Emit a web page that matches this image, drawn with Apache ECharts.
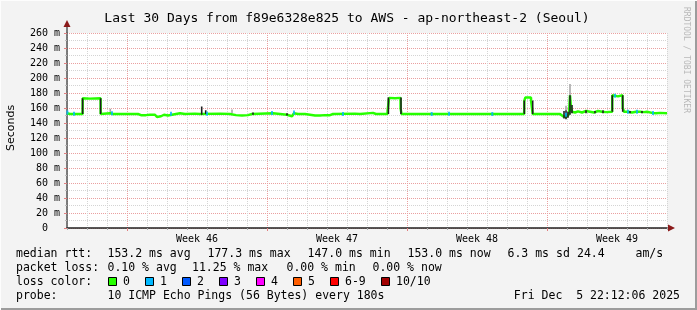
<!DOCTYPE html>
<html>
<head>
<meta charset="utf-8">
<script src="https://cdn.jsdelivr.net/npm/echarts@6/dist/echarts.min.js"></script>
<style>html,body{margin:0;padding:0;background:#f3f3f3;}#c{width:697px;height:310px;}</style>
</head>
<body>
<div id="c"></div>
<script>
// ---- data (time in days since start of the 30-day window, values in ms) ----
const times = [0.00,0.15,0.78,0.785,1.15,1.68,1.685,2.15,2.30,3.55,3.70,3.95,4.15,4.25,4.40,4.50,4.60,4.70,4.85,5.05,5.15,5.65,5.90,6.40,6.65,7.65,8.15,8.25,8.45,8.75,9.05,9.25,10.30,10.65,11.00,11.10,11.25,11.35,11.55,11.90,12.15,12.40,12.65,12.90,13.15,13.30,14.40,14.65,15.30,15.45,16.025,16.03,16.10,16.105,16.40,16.675,16.68,16.725,19.65,22.86,22.865,22.915,23.20,23.205,23.28,23.285,24.65,24.80,24.95,25.05,25.10,25.15,25.20,25.25,25.40,25.55,25.75,25.95,26.15,26.35,26.55,26.75,26.95,27.26,27.265,27.35,27.55,27.775,27.785,27.85,28.05,28.25,28.45,28.65,28.85,29.00,29.05,29.25,29.45,29.65,30.00];
const median = [153,152,152,173,172.5,173,152,153,152,152,150.5,150.5,151,153,151,148,147,149,151,150,152,153,152,152.5,152,152.5,152,153,150.5,150,150.5,152,153,152,151,149,149,153,152,152,151,150,150,150.5,150.5,152,152.5,152,153.5,152,152,156,156,173.5,173,173.5,159.5,152,152,152,169.5,174,174,169.5,169.5,152,152,149,148,150,152,177,160,155,154,155.5,154,156,155,154,156,155,154.5,155,177,176,175.5,177,160,155,155,154,155,155,154.5,155,153,153.5,153,153.5,153];

// packets lost (1 of 10) at these times
const lossTimes = [0.02,0.35,2.25,5.20,7.00,10.25,11.35,13.80,18.235,19.10,21.265,24.95,27.40,28.05,28.50,29.30];
const lossMs    = [154,152.5,153,152.5,152.5,153.5,154,152,152,152.5,152,151,176.5,155,155,153.5];

// smoke (spread of the pings): dark and light parts
const smokeDarkT  = [0.78,1.68,6.735,6.935,9.30,11.00,16.07,16.70,22.865,23.285,24.85,24.95,25.05,25.15,25.25,25.95,26.40,26.80,27.265,27.785,28.15,28.75];
const smokeDarkLo = [152,152,151,152,151,150,152,152,152,152,146,145,147,151,153,153,153,153,155,155,153,153];
const smokeDarkHi = [173,173,162,157,154,153,174,174,170,170,156,157,155,177,164,157,156,157,177,177,156,156];
const smokeGreyT  = [2.165,8.25,24.95,25.15];
const smokeGreyLo = [152,153,157,177];
const smokeGreyHi = [159,158,163,192];

const weekStarts = [3,10,17,24];
const weekMid    = [6.5,13.5,20.5,27.5];
const weekLabels = ['Week 46','Week 47','Week 48','Week 49'];

const lossColors = ['#26ff00','#00b8ff','#0059ff','#7e00ff','#ff00ff','#ff5e00','#ff0000','#a10000'];
const lossNames  = ['0','1','2','3','4','5','6-9','10/10'];

const statsRtt  = ['153.2 ms avg','177.3 ms max','147.0 ms min','153.0 ms now','6.3 ms sd','24.4','am/s'];
const statsLoss = ['0.10 % avg','11.25 % max','0.00 % min','0.00 % now'];
const probeText = '10 ICMP Echo Pings (56 Bytes) every 180s';
const dateText  = 'Fri Dec  5 22:12:06 2025';
const titleText = 'Last 30 Days from f89e6328e825 to AWS - ap-northeast-2 (Seoul)';

// ---- build ----
const MONO = "'DejaVu Sans Mono', monospace";
const chart = echarts.init(document.getElementById('c'), null, {renderer:'canvas'});

const lineData = times.map((t,i)=>[t, median[i]]);
const lossData = lossTimes.map((t,i)=>[t, lossMs[i]]);
const darkData = smokeDarkT.map((t,i)=>[t, smokeDarkLo[i], smokeDarkHi[i]]);
const greyData = smokeGreyT.map((t,i)=>[t, smokeGreyLo[i], smokeGreyHi[i]]);

function smokeRender(color){
  return function(params, api){
    const top = api.coord([api.value(0), api.value(2)]);
    const bot = api.coord([api.value(0), api.value(1)]);
    return {type:'rect', shape:{x: top[0]-0.8, y: top[1], width:1.6, height: bot[1]-top[1]}, style:{fill:color}};
  };
}

const graphics = [];
// frame
graphics.push({type:'rect', shape:{x:695,y:0,width:2,height:310}, style:{fill:'#9c9c9c'}, silent:true});
graphics.push({type:'rect', shape:{x:0,y:308,width:697,height:2}, style:{fill:'#9c9c9c'}, silent:true});
graphics.push({type:'rect', shape:{x:0,y:0,width:697,height:1}, style:{fill:'#fdfdfd'}, silent:true});
graphics.push({type:'rect', shape:{x:0,y:0,width:1,height:310}, style:{fill:'#fdfdfd'}, silent:true});
// title
graphics.push({type:'text', x:347, y:19, style:{text:titleText, font:"13px "+MONO, fill:'#000', align:'center', verticalAlign:'middle'}});
// y name
graphics.push({type:'text', x:11, y:128, rotation:Math.PI/2, style:{text:'Seconds', font:"11px 'DejaVu Sans'", fill:'#000', align:'center', verticalAlign:'middle'}});
// watermark
graphics.push({type:'text', x:686, y:60, rotation:-Math.PI/2, style:{text:'RRDTOOL / TOBI OETIKER', font:"8px "+MONO, fill:'#b8b8b8', align:'center', verticalAlign:'middle'}});
// axis extensions + arrows
graphics.push({type:'line', shape:{x1:67,y1:33,x2:67,y2:26}, style:{stroke:'#555', lineWidth:1.5}});
graphics.push({type:'polygon', shape:{points:[[63.5,27],[70.5,27],[67,20]]}, style:{fill:'#8b1a1a'}});
graphics.push({type:'line', shape:{x1:667,y1:228,x2:669,y2:228}, style:{stroke:'#222', lineWidth:1.5}});
graphics.push({type:'polygon', shape:{points:[[668,224.5],[668,231.5],[675,228]]}, style:{fill:'#8b1a1a'}});

// legend rows
const LF = "11.5px "+MONO;
const rowY = [254, 268, 282, 296];
function txt(s, x, y, align){ graphics.push({type:'text', x:x, y:y, style:{text:s, font:LF, fill:'#000', align:align||'left', verticalAlign:'middle'}}); }
txt('median rtt:', 16, rowY[0]);
const rttX = [107.5,207.5,307.5,407.5,507.5,577,635.5];
statsRtt.forEach((s,i)=>txt(s, rttX[i], rowY[0]));
txt('packet loss:', 16, rowY[1]);
const lossX = [107.5,192,286.5,372.5];
statsLoss.forEach((s,i)=>txt(s, lossX[i], rowY[1]));
txt('loss color:', 16, rowY[2]);
const boxX = [108,145,182,219,256,293,330,381];
lossColors.forEach((c,i)=>{
  graphics.push({type:'rect', shape:{x:boxX[i]+0.5, y:rowY[2]-4.5, width:8, height:8}, style:{fill:c, stroke:'#000', lineWidth:1}});
  txt(lossNames[i], boxX[i]+15, rowY[2]);
});
txt('probe:', 16, rowY[3]);
txt(probeText, 107.5, rowY[3]);
txt(dateText, 680, rowY[3], 'right');

const option = {
  animation:false,
  backgroundColor:'#f3f3f3',
  grid:{left:67, right:30, top:33, bottom:82, show:true, backgroundColor:'#ffffff', borderWidth:0},
  xAxis:[
    {type:'value', min:0, max:30, interval:1,
     axisLine:{show:true, onZero:false, lineStyle:{color:'#222', width:1.5}},
     axisTick:{show:true, length:2, inside:false, lineStyle:{color:'#aaa'}},
     axisLabel:{show:false},
     splitLine:{show:true, lineStyle:{color:'#d4d4d4', type:[1,1], width:1}}},
    {type:'value', min:0, max:30, position:'bottom',
     axisLine:{show:false},
     axisTick:{show:true, length:3, customValues:weekStarts, lineStyle:{color:'#e08080'}},
     axisLabel:{show:true, customValues:weekMid, margin:6, fontFamily:MONO, fontSize:10, color:'#000',
       formatter:function(v){ const i = weekMid.indexOf(v); return i>=0 ? weekLabels[i] : ''; }},
     splitLine:{show:true, lineStyle:{color:'#eaa0a0', type:[1,1], width:1}}}
  ],
  yAxis:{type:'value', min:0, max:260, interval:20,
    axisLine:{show:true, lineStyle:{color:'#555', width:1.5}},
    axisTick:{show:true, length:3, lineStyle:{color:'#e08080'}},
    minorTick:{show:true, splitNumber:2, length:2, lineStyle:{color:'#bbb'}},
    axisLabel:{margin:7, fontFamily:MONO, fontSize:10, color:'#000',
      formatter:function(v){ return v===0 ? '0  ' : v+' m'; }},
    splitLine:{show:true, lineStyle:{color:'#eaa0a0', type:[1,1], width:1}},
    minorSplitLine:{show:true, lineStyle:{color:'#d4d4d4', type:[1,1], width:1}}
  },
  series:[
    {type:'custom', xAxisIndex:0, renderItem:smokeRender('#a8a8a8'), data:greyData, z:2, silent:true},
    {type:'line', xAxisIndex:0, data:lineData, symbol:'none', lineStyle:{color:'#26ff00', width:2.5}, z:3, silent:true},
    {type:'custom', xAxisIndex:0, renderItem:smokeRender('#1e1e1e'), data:darkData, z:4, silent:true},
    {type:'scatter', xAxisIndex:0, data:lossData, symbol:'rect', symbolSize:[2,4], itemStyle:{color:'#00b8ff'}, z:5, silent:true}
  ],
  graphic:graphics
};
chart.setOption(option);
</script>
</body>
</html>
